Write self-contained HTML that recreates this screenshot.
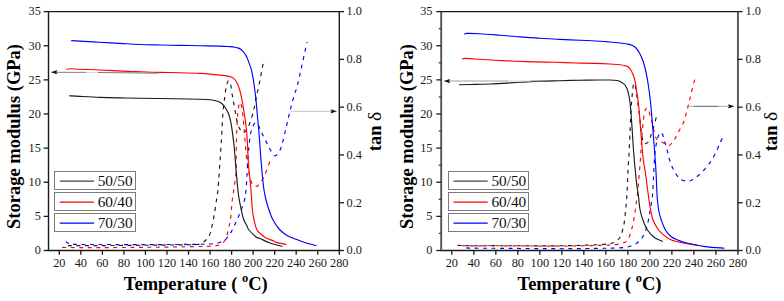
<!DOCTYPE html>
<html><head><meta charset="utf-8"><style>
html,body{margin:0;padding:0;background:#fff;}
svg{display:block;}
.tk{font-family:"Liberation Serif",serif;font-size:12.3px;fill:#1a1a1a;}
.lg{font-family:"Liberation Serif",serif;font-size:15.3px;fill:#111;}
.ti{font-family:"Liberation Serif",serif;font-size:18.5px;font-weight:bold;fill:#000;}
</style></head><body>
<svg width="784" height="301" viewBox="0 0 784 301">
<rect width="784" height="301" fill="#fff"/>
<line x1="47.6" y1="11.6" x2="340.2" y2="11.6" stroke="#1a1a1a" stroke-width="1.4"/>
<line x1="47.6" y1="250.5" x2="340.2" y2="250.5" stroke="#1a1a1a" stroke-width="1.4"/>
<line x1="48.5" y1="11.6" x2="48.5" y2="250.5" stroke="#1a1a1a" stroke-width="1.4"/>
<line x1="339.3" y1="11.6" x2="339.3" y2="250.5" stroke="#1a1a1a" stroke-width="1.4"/>
<line x1="43.6" y1="250.50" x2="48.5" y2="250.50" stroke="#1a1a1a" stroke-width="1.3"/>
<text x="40.8" y="254.30" text-anchor="end" class="tk">0</text>
<line x1="43.6" y1="216.37" x2="48.5" y2="216.37" stroke="#1a1a1a" stroke-width="1.3"/>
<text x="40.8" y="220.17" text-anchor="end" class="tk">5</text>
<line x1="43.6" y1="182.24" x2="48.5" y2="182.24" stroke="#1a1a1a" stroke-width="1.3"/>
<text x="40.8" y="186.04" text-anchor="end" class="tk">10</text>
<line x1="43.6" y1="148.11" x2="48.5" y2="148.11" stroke="#1a1a1a" stroke-width="1.3"/>
<text x="40.8" y="151.91" text-anchor="end" class="tk">15</text>
<line x1="43.6" y1="113.99" x2="48.5" y2="113.99" stroke="#1a1a1a" stroke-width="1.3"/>
<text x="40.8" y="117.79" text-anchor="end" class="tk">20</text>
<line x1="43.6" y1="79.86" x2="48.5" y2="79.86" stroke="#1a1a1a" stroke-width="1.3"/>
<text x="40.8" y="83.66" text-anchor="end" class="tk">25</text>
<line x1="43.6" y1="45.73" x2="48.5" y2="45.73" stroke="#1a1a1a" stroke-width="1.3"/>
<text x="40.8" y="49.53" text-anchor="end" class="tk">30</text>
<line x1="43.6" y1="11.60" x2="48.5" y2="11.60" stroke="#1a1a1a" stroke-width="1.3"/>
<text x="40.8" y="15.40" text-anchor="end" class="tk">35</text>
<line x1="339.3" y1="250.50" x2="344.0" y2="250.50" stroke="#1a1a1a" stroke-width="1.3"/>
<text x="346.5" y="254.30" class="tk">0.0</text>
<line x1="339.3" y1="202.72" x2="344.0" y2="202.72" stroke="#1a1a1a" stroke-width="1.3"/>
<text x="346.5" y="206.52" class="tk">0.2</text>
<line x1="339.3" y1="154.94" x2="344.0" y2="154.94" stroke="#1a1a1a" stroke-width="1.3"/>
<text x="346.5" y="158.74" class="tk">0.4</text>
<line x1="339.3" y1="107.16" x2="344.0" y2="107.16" stroke="#1a1a1a" stroke-width="1.3"/>
<text x="346.5" y="110.96" class="tk">0.6</text>
<line x1="339.3" y1="59.38" x2="344.0" y2="59.38" stroke="#1a1a1a" stroke-width="1.3"/>
<text x="346.5" y="63.18" class="tk">0.8</text>
<line x1="339.3" y1="11.60" x2="344.0" y2="11.60" stroke="#1a1a1a" stroke-width="1.3"/>
<text x="346.5" y="15.40" class="tk">1.0</text>
<line x1="59.30" y1="250.5" x2="59.30" y2="254.8" stroke="#1a1a1a" stroke-width="1.3"/>
<text x="59.30" y="267.2" text-anchor="middle" class="tk">20</text>
<line x1="80.84" y1="250.5" x2="80.84" y2="254.8" stroke="#1a1a1a" stroke-width="1.3"/>
<text x="80.84" y="267.2" text-anchor="middle" class="tk">40</text>
<line x1="102.38" y1="250.5" x2="102.38" y2="254.8" stroke="#1a1a1a" stroke-width="1.3"/>
<text x="102.38" y="267.2" text-anchor="middle" class="tk">60</text>
<line x1="123.92" y1="250.5" x2="123.92" y2="254.8" stroke="#1a1a1a" stroke-width="1.3"/>
<text x="123.92" y="267.2" text-anchor="middle" class="tk">80</text>
<line x1="145.45" y1="250.5" x2="145.45" y2="254.8" stroke="#1a1a1a" stroke-width="1.3"/>
<text x="145.45" y="267.2" text-anchor="middle" class="tk">100</text>
<line x1="166.99" y1="250.5" x2="166.99" y2="254.8" stroke="#1a1a1a" stroke-width="1.3"/>
<text x="166.99" y="267.2" text-anchor="middle" class="tk">120</text>
<line x1="188.53" y1="250.5" x2="188.53" y2="254.8" stroke="#1a1a1a" stroke-width="1.3"/>
<text x="188.53" y="267.2" text-anchor="middle" class="tk">140</text>
<line x1="210.07" y1="250.5" x2="210.07" y2="254.8" stroke="#1a1a1a" stroke-width="1.3"/>
<text x="210.07" y="267.2" text-anchor="middle" class="tk">160</text>
<line x1="231.61" y1="250.5" x2="231.61" y2="254.8" stroke="#1a1a1a" stroke-width="1.3"/>
<text x="231.61" y="267.2" text-anchor="middle" class="tk">180</text>
<line x1="253.15" y1="250.5" x2="253.15" y2="254.8" stroke="#1a1a1a" stroke-width="1.3"/>
<text x="253.15" y="267.2" text-anchor="middle" class="tk">200</text>
<line x1="274.68" y1="250.5" x2="274.68" y2="254.8" stroke="#1a1a1a" stroke-width="1.3"/>
<text x="274.68" y="267.2" text-anchor="middle" class="tk">220</text>
<line x1="296.22" y1="250.5" x2="296.22" y2="254.8" stroke="#1a1a1a" stroke-width="1.3"/>
<text x="296.22" y="267.2" text-anchor="middle" class="tk">240</text>
<line x1="317.76" y1="250.5" x2="317.76" y2="254.8" stroke="#1a1a1a" stroke-width="1.3"/>
<text x="317.76" y="267.2" text-anchor="middle" class="tk">260</text>
<line x1="339.30" y1="250.5" x2="339.30" y2="254.8" stroke="#1a1a1a" stroke-width="1.3"/>
<text x="339.30" y="267.2" text-anchor="middle" class="tk">280</text>
<path d="M66.40,245.30 C67.00,245.35 64.40,245.55 70.00,245.60 C75.60,245.65 86.67,245.67 100.00,245.60 C113.33,245.53 135.00,245.33 150.00,245.20 C165.00,245.07 182.33,244.90 190.00,244.80 C197.67,244.70 194.10,244.82 196.00,244.60 C197.90,244.38 199.63,244.37 201.40,243.50 C203.17,242.63 205.15,241.05 206.60,239.40 C208.05,237.75 209.22,235.73 210.10,233.60 C210.98,231.47 211.22,229.70 211.90,226.60 C212.58,223.50 213.43,219.43 214.20,215.00 C214.97,210.57 215.88,204.17 216.50,200.00 C217.12,195.83 217.42,195.00 217.90,190.00 C218.38,185.00 218.82,178.33 219.40,170.00 C219.98,161.67 220.83,149.17 221.40,140.00 C221.97,130.83 222.37,121.17 222.80,115.00 C223.23,108.83 223.63,106.33 224.00,103.00 C224.37,99.67 224.62,97.75 225.00,95.00 C225.38,92.25 225.75,88.87 226.30,86.50 C226.85,84.13 227.60,81.22 228.30,80.80 C229.00,80.38 229.83,81.63 230.50,84.00 C231.17,86.37 231.75,91.78 232.30,95.00 C232.85,98.22 233.27,100.30 233.80,103.30 C234.33,106.30 234.97,110.05 235.50,113.00 C236.03,115.95 236.42,118.58 237.00,121.00 C237.58,123.42 238.25,125.78 239.00,127.50 C239.75,129.22 240.72,130.47 241.50,131.30 C242.28,132.13 242.95,132.67 243.70,132.50 C244.45,132.33 245.23,131.22 246.00,130.30 C246.77,129.38 247.55,128.55 248.30,127.00 C249.05,125.45 249.73,123.28 250.50,121.00 C251.27,118.72 252.22,115.80 252.90,113.30 C253.58,110.80 254.00,108.88 254.60,106.00 C255.20,103.12 255.77,99.50 256.50,96.00 C257.23,92.50 258.17,89.00 259.00,85.00 C259.83,81.00 260.67,76.33 261.50,72.00 C262.33,67.67 263.58,61.17 264.00,59.00" fill="none" stroke="#1a1a1a" stroke-width="1.15" stroke-dasharray="3.9 4.6" stroke-dashoffset="6.5"/>
<path d="M62.70,247.30 C63.25,247.33 59.78,247.45 66.00,247.50 C72.22,247.55 86.00,247.63 100.00,247.60 C114.00,247.57 134.17,247.47 150.00,247.30 C165.83,247.13 185.00,246.77 195.00,246.60 C205.00,246.43 206.67,246.43 210.00,246.30 C213.33,246.17 213.33,246.07 215.00,245.80 C216.67,245.53 218.50,245.38 220.00,244.70 C221.50,244.02 222.92,242.98 224.00,241.70 C225.08,240.42 225.80,238.95 226.50,237.00 C227.20,235.05 227.70,232.12 228.20,230.00 C228.70,227.88 229.12,226.02 229.50,224.30 C229.88,222.58 230.03,223.75 230.50,219.70 C230.97,215.65 231.63,205.78 232.30,200.00 C232.97,194.22 233.88,189.67 234.50,185.00 C235.12,180.33 235.70,177.83 236.00,172.00 C236.30,166.17 236.20,156.17 236.30,150.00 C236.40,143.83 236.43,140.00 236.60,135.00 C236.77,130.00 237.00,124.50 237.30,120.00 C237.60,115.50 237.95,110.95 238.40,108.00 C238.85,105.05 239.43,102.38 240.00,102.30 C240.57,102.22 241.30,105.05 241.80,107.50 C242.30,109.95 242.63,113.58 243.00,117.00 C243.37,120.42 243.67,124.17 244.00,128.00 C244.33,131.83 244.63,135.50 245.00,140.00 C245.37,144.50 245.70,150.33 246.20,155.00 C246.70,159.67 247.20,163.67 248.00,168.00 C248.80,172.33 250.00,178.08 251.00,181.00 C252.00,183.92 253.00,184.63 254.00,185.50 C255.00,186.37 256.00,186.62 257.00,186.20 C258.00,185.78 259.00,184.28 260.00,183.00 C261.00,181.72 262.00,180.33 263.00,178.50 C264.00,176.67 264.83,174.92 266.00,172.00 C267.17,169.08 269.33,162.83 270.00,161.00" fill="none" stroke="#ff0000" stroke-width="1.15" stroke-dasharray="3.9 4.6" stroke-dashoffset="7.8"/>
<path d="M66.00,241.70 C66.38,241.95 67.30,242.77 68.30,243.20 C69.30,243.63 66.72,244.08 72.00,244.30 C77.28,244.52 87.00,244.45 100.00,244.50 C113.00,244.55 133.33,244.63 150.00,244.60 C166.67,244.57 190.00,244.40 200.00,244.30 C210.00,244.20 207.50,244.13 210.00,244.00 C212.50,243.87 213.33,243.78 215.00,243.50 C216.67,243.22 218.33,242.88 220.00,242.30 C221.67,241.72 223.67,240.97 225.00,240.00 C226.33,239.03 227.00,237.77 228.00,236.50 C229.00,235.23 230.17,233.75 231.00,232.40 C231.83,231.05 232.17,230.13 233.00,228.40 C233.83,226.67 234.77,224.73 236.00,222.00 C237.23,219.27 238.98,215.67 240.40,212.00 C241.82,208.33 243.57,203.67 244.50,200.00 C245.43,196.33 245.58,194.17 246.00,190.00 C246.42,185.83 246.63,180.83 247.00,175.00 C247.37,169.17 247.82,160.33 248.20,155.00 C248.58,149.67 248.87,146.75 249.30,143.00 C249.73,139.25 250.18,135.33 250.80,132.50 C251.42,129.67 252.25,127.65 253.00,126.00 C253.75,124.35 254.50,122.88 255.30,122.60 C256.10,122.32 256.93,123.07 257.80,124.30 C258.67,125.53 259.65,128.18 260.50,130.00 C261.35,131.82 261.73,132.80 262.90,135.20 C264.07,137.60 266.23,141.93 267.50,144.40 C268.77,146.87 269.25,148.10 270.50,150.00 C271.75,151.90 273.42,155.80 275.00,155.80 C276.58,155.80 278.67,152.47 280.00,150.00 C281.33,147.53 281.92,145.00 283.00,141.00 C284.08,137.00 285.33,131.00 286.50,126.00 C287.67,121.00 288.75,116.00 290.00,111.00 C291.25,106.00 292.75,100.33 294.00,96.00 C295.25,91.67 296.17,90.17 297.50,85.00 C298.83,79.83 300.42,72.17 302.00,65.00 C303.58,57.83 306.17,45.83 307.00,42.00" fill="none" stroke="#0000ff" stroke-width="1.15" stroke-dasharray="3.9 4.6" stroke-dashoffset="0.5"/>
<path d="M69.20,95.70 C71.00,95.82 74.87,96.12 80.00,96.40 C85.13,96.68 93.33,97.15 100.00,97.40 C106.67,97.65 113.33,97.77 120.00,97.90 C126.67,98.03 130.83,98.07 140.00,98.20 C149.17,98.33 165.00,98.53 175.00,98.70 C185.00,98.87 194.17,99.03 200.00,99.20 C205.83,99.37 207.50,99.47 210.00,99.70 C212.50,99.93 213.33,100.17 215.00,100.60 C216.67,101.03 218.50,101.43 220.00,102.30 C221.50,103.17 222.83,104.43 224.00,105.80 C225.17,107.17 226.17,108.97 227.00,110.50 C227.83,112.03 228.33,112.92 229.00,115.00 C229.67,117.08 230.42,120.00 231.00,123.00 C231.58,126.00 232.00,129.33 232.50,133.00 C233.00,136.67 233.53,140.50 234.00,145.00 C234.47,149.50 234.88,155.00 235.30,160.00 C235.72,165.00 235.97,169.17 236.50,175.00 C237.03,180.83 237.83,189.83 238.50,195.00 C239.17,200.17 239.67,202.00 240.50,206.00 C241.33,210.00 242.42,215.67 243.50,219.00 C244.58,222.33 246.08,224.17 247.00,226.00 C247.92,227.83 247.50,228.17 249.00,230.00 C250.50,231.83 254.17,235.58 256.00,237.00 C257.83,238.42 257.67,237.50 260.00,238.50 C262.33,239.50 266.27,241.68 270.00,243.00 C273.73,244.32 280.33,245.83 282.40,246.40" fill="none" stroke="#1a1a1a" stroke-width="1.15"/>
<path d="M66.40,69.40 C67.00,69.30 67.73,68.82 70.00,68.80 C72.27,68.78 75.00,69.10 80.00,69.30 C85.00,69.50 92.00,69.65 100.00,70.00 C108.00,70.35 121.33,71.12 128.00,71.40 C134.67,71.68 134.67,71.53 140.00,71.70 C145.33,71.87 153.33,72.23 160.00,72.40 C166.67,72.57 173.33,72.53 180.00,72.70 C186.67,72.87 194.17,73.08 200.00,73.40 C205.83,73.72 210.83,74.23 215.00,74.60 C219.17,74.97 222.17,75.15 225.00,75.60 C227.83,76.05 230.28,76.57 232.00,77.30 C233.72,78.03 234.30,78.72 235.30,80.00 C236.30,81.28 237.27,83.33 238.00,85.00 C238.73,86.67 239.20,88.33 239.70,90.00 C240.20,91.67 240.62,93.33 241.00,95.00 C241.38,96.67 241.68,98.33 242.00,100.00 C242.32,101.67 242.62,103.33 242.90,105.00 C243.18,106.67 243.38,108.00 243.70,110.00 C244.02,112.00 244.33,113.67 244.80,117.00 C245.27,120.33 246.05,125.33 246.50,130.00 C246.95,134.67 247.17,139.17 247.50,145.00 C247.83,150.83 248.08,159.17 248.50,165.00 C248.92,170.83 249.58,175.83 250.00,180.00 C250.42,184.17 250.60,185.00 251.00,190.00 C251.40,195.00 251.90,205.00 252.40,210.00 C252.90,215.00 253.23,216.67 254.00,220.00 C254.77,223.33 255.67,227.50 257.00,230.00 C258.33,232.50 260.50,233.67 262.00,235.00 C263.50,236.33 264.00,237.00 266.00,238.00 C268.00,239.00 272.33,240.27 274.00,241.00 C275.67,241.73 273.92,241.82 276.00,242.40 C278.08,242.98 284.75,244.15 286.50,244.50" fill="none" stroke="#ff0000" stroke-width="1.15"/>
<path d="M71.20,40.60 C72.67,40.68 75.20,40.82 80.00,41.10 C84.80,41.38 93.33,41.92 100.00,42.30 C106.67,42.68 113.33,43.03 120.00,43.40 C126.67,43.77 133.33,44.23 140.00,44.50 C146.67,44.77 153.33,44.85 160.00,45.00 C166.67,45.15 173.33,45.28 180.00,45.40 C186.67,45.52 193.33,45.58 200.00,45.70 C206.67,45.82 215.83,45.98 220.00,46.10 C224.17,46.22 223.33,46.32 225.00,46.40 C226.67,46.48 228.33,46.47 230.00,46.60 C231.67,46.73 233.58,46.95 235.00,47.20 C236.42,47.45 237.50,47.72 238.50,48.10 C239.50,48.48 240.20,48.92 241.00,49.50 C241.80,50.08 242.63,50.85 243.30,51.60 C243.97,52.35 244.38,53.03 245.00,54.00 C245.62,54.97 246.42,56.15 247.00,57.40 C247.58,58.65 248.00,60.13 248.50,61.50 C249.00,62.87 249.50,64.15 250.00,65.60 C250.50,67.05 251.08,68.63 251.50,70.20 C251.92,71.77 252.18,73.37 252.50,75.00 C252.82,76.63 253.02,77.50 253.40,80.00 C253.78,82.50 254.37,86.67 254.80,90.00 C255.23,93.33 255.65,96.67 256.00,100.00 C256.35,103.33 256.63,107.00 256.90,110.00 C257.17,113.00 257.33,115.17 257.60,118.00 C257.87,120.83 258.15,123.00 258.50,127.00 C258.85,131.00 259.28,136.50 259.70,142.00 C260.12,147.50 260.48,153.67 261.00,160.00 C261.52,166.33 262.30,175.00 262.80,180.00 C263.30,185.00 263.47,186.67 264.00,190.00 C264.53,193.33 265.17,196.67 266.00,200.00 C266.83,203.33 267.83,206.67 269.00,210.00 C270.17,213.33 271.17,216.67 273.00,220.00 C274.83,223.33 277.50,227.33 280.00,230.00 C282.50,232.67 285.00,234.33 288.00,236.00 C291.00,237.67 294.83,238.78 298.00,240.00 C301.17,241.22 303.93,242.37 307.00,243.30 C310.07,244.23 314.83,245.22 316.40,245.60" fill="none" stroke="#0000ff" stroke-width="1.15"/>
<line x1="56" y1="72.3" x2="86" y2="72.4" stroke="#808080" stroke-width="1.0"/>
<line x1="86" y1="72.4" x2="98" y2="72.5" stroke="#d8d8d8" stroke-width="1.0"/>
<line x1="98" y1="72.5" x2="158.5" y2="73.2" stroke="#7a7a7a" stroke-width="1.0"/>
<line x1="291" y1="111.3" x2="332" y2="111.3" stroke="#c4c4c4" stroke-width="1.0"/>
<path d="M50.8,72.2 L57.3,70.10000000000001 L56.3,72.2 L57.3,74.3 Z" fill="#111"/>
<path d="M337,111.3 L330.5,109.2 L331.5,111.3 L330.5,113.39999999999999 Z" fill="#111"/>
<rect x="54.5" y="171.5" width="81.0" height="18.0" fill="#fff" stroke="#7a7a7a" stroke-width="1"/>
<line x1="59.8" y1="181.0" x2="94.0" y2="181.0" stroke="#444" stroke-width="1.25"/>
<text x="97.7" y="186.10" class="lg">50/50</text>
<rect x="54.5" y="192.5" width="81.0" height="18.0" fill="#fff" stroke="#7a7a7a" stroke-width="1"/>
<line x1="59.8" y1="202.2" x2="94.0" y2="202.2" stroke="#ff0000" stroke-width="1.25"/>
<text x="97.7" y="207.10" class="lg">60/40</text>
<rect x="54.5" y="213.5" width="81.0" height="18.0" fill="#fff" stroke="#7a7a7a" stroke-width="1"/>
<line x1="59.8" y1="223.2" x2="94.0" y2="223.2" stroke="#0000ff" stroke-width="1.25"/>
<text x="97.7" y="228.10" class="lg">70/30</text>
<text transform="translate(19.5,136.5) rotate(-90)" text-anchor="middle" class="ti">Storage modulus (GPa)</text>
<text transform="translate(381.0,131.5) rotate(-90)" text-anchor="middle" class="ti">tan <tspan font-weight="normal" font-size="19.5">&#948;</tspan></text>
<text x="195.8" y="290" text-anchor="middle" class="ti">Temperature ( <tspan dy="-8" font-size="12.5">o</tspan><tspan dy="8">C)</tspan></text>
<line x1="440.3" y1="11.6" x2="738.8" y2="11.6" stroke="#1a1a1a" stroke-width="1.4"/>
<line x1="440.3" y1="250.5" x2="738.8" y2="250.5" stroke="#1a1a1a" stroke-width="1.4"/>
<line x1="441.2" y1="11.6" x2="441.2" y2="250.5" stroke="#555" stroke-width="1.9"/>
<line x1="737.9" y1="11.6" x2="737.9" y2="250.5" stroke="#555" stroke-width="1.9"/>
<line x1="436.3" y1="250.50" x2="441.2" y2="250.50" stroke="#1a1a1a" stroke-width="1.3"/>
<text x="432.5" y="254.30" text-anchor="end" class="tk">0</text>
<line x1="438.7" y1="233.44" x2="441.2" y2="233.44" stroke="#333" stroke-width="1.2"/>
<line x1="436.3" y1="216.37" x2="441.2" y2="216.37" stroke="#1a1a1a" stroke-width="1.3"/>
<text x="432.5" y="220.17" text-anchor="end" class="tk">5</text>
<line x1="438.7" y1="199.31" x2="441.2" y2="199.31" stroke="#333" stroke-width="1.2"/>
<line x1="436.3" y1="182.24" x2="441.2" y2="182.24" stroke="#1a1a1a" stroke-width="1.3"/>
<text x="432.5" y="186.04" text-anchor="end" class="tk">10</text>
<line x1="438.7" y1="165.18" x2="441.2" y2="165.18" stroke="#333" stroke-width="1.2"/>
<line x1="436.3" y1="148.11" x2="441.2" y2="148.11" stroke="#1a1a1a" stroke-width="1.3"/>
<text x="432.5" y="151.91" text-anchor="end" class="tk">15</text>
<line x1="438.7" y1="131.05" x2="441.2" y2="131.05" stroke="#333" stroke-width="1.2"/>
<line x1="436.3" y1="113.99" x2="441.2" y2="113.99" stroke="#1a1a1a" stroke-width="1.3"/>
<text x="432.5" y="117.79" text-anchor="end" class="tk">20</text>
<line x1="438.7" y1="96.92" x2="441.2" y2="96.92" stroke="#333" stroke-width="1.2"/>
<line x1="436.3" y1="79.86" x2="441.2" y2="79.86" stroke="#1a1a1a" stroke-width="1.3"/>
<text x="432.5" y="83.66" text-anchor="end" class="tk">25</text>
<line x1="438.7" y1="62.79" x2="441.2" y2="62.79" stroke="#333" stroke-width="1.2"/>
<line x1="436.3" y1="45.73" x2="441.2" y2="45.73" stroke="#1a1a1a" stroke-width="1.3"/>
<text x="432.5" y="49.53" text-anchor="end" class="tk">30</text>
<line x1="438.7" y1="28.66" x2="441.2" y2="28.66" stroke="#333" stroke-width="1.2"/>
<line x1="436.3" y1="11.60" x2="441.2" y2="11.60" stroke="#1a1a1a" stroke-width="1.3"/>
<text x="432.5" y="15.40" text-anchor="end" class="tk">35</text>
<line x1="737.9" y1="250.50" x2="742.6" y2="250.50" stroke="#1a1a1a" stroke-width="1.3"/>
<text x="745.5" y="254.30" class="tk">0.0</text>
<line x1="737.9" y1="202.72" x2="742.6" y2="202.72" stroke="#1a1a1a" stroke-width="1.3"/>
<text x="745.5" y="206.52" class="tk">0.2</text>
<line x1="737.9" y1="154.94" x2="742.6" y2="154.94" stroke="#1a1a1a" stroke-width="1.3"/>
<text x="745.5" y="158.74" class="tk">0.4</text>
<line x1="737.9" y1="107.16" x2="742.6" y2="107.16" stroke="#1a1a1a" stroke-width="1.3"/>
<text x="745.5" y="110.96" class="tk">0.6</text>
<line x1="737.9" y1="59.38" x2="742.6" y2="59.38" stroke="#1a1a1a" stroke-width="1.3"/>
<text x="745.5" y="63.18" class="tk">0.8</text>
<line x1="737.9" y1="11.60" x2="742.6" y2="11.60" stroke="#1a1a1a" stroke-width="1.3"/>
<text x="745.5" y="15.40" class="tk">1.0</text>
<line x1="451.80" y1="250.5" x2="451.80" y2="254.8" stroke="#1a1a1a" stroke-width="1.3"/>
<text x="451.80" y="267.2" text-anchor="middle" class="tk">20</text>
<line x1="473.81" y1="250.5" x2="473.81" y2="254.8" stroke="#1a1a1a" stroke-width="1.3"/>
<text x="473.81" y="267.2" text-anchor="middle" class="tk">40</text>
<line x1="495.82" y1="250.5" x2="495.82" y2="254.8" stroke="#1a1a1a" stroke-width="1.3"/>
<text x="495.82" y="267.2" text-anchor="middle" class="tk">60</text>
<line x1="517.82" y1="250.5" x2="517.82" y2="254.8" stroke="#1a1a1a" stroke-width="1.3"/>
<text x="517.82" y="267.2" text-anchor="middle" class="tk">80</text>
<line x1="539.83" y1="250.5" x2="539.83" y2="254.8" stroke="#1a1a1a" stroke-width="1.3"/>
<text x="539.83" y="267.2" text-anchor="middle" class="tk">100</text>
<line x1="561.84" y1="250.5" x2="561.84" y2="254.8" stroke="#1a1a1a" stroke-width="1.3"/>
<text x="561.84" y="267.2" text-anchor="middle" class="tk">120</text>
<line x1="583.85" y1="250.5" x2="583.85" y2="254.8" stroke="#1a1a1a" stroke-width="1.3"/>
<text x="583.85" y="267.2" text-anchor="middle" class="tk">140</text>
<line x1="605.85" y1="250.5" x2="605.85" y2="254.8" stroke="#1a1a1a" stroke-width="1.3"/>
<text x="605.85" y="267.2" text-anchor="middle" class="tk">160</text>
<line x1="627.86" y1="250.5" x2="627.86" y2="254.8" stroke="#1a1a1a" stroke-width="1.3"/>
<text x="627.86" y="267.2" text-anchor="middle" class="tk">180</text>
<line x1="649.87" y1="250.5" x2="649.87" y2="254.8" stroke="#1a1a1a" stroke-width="1.3"/>
<text x="649.87" y="267.2" text-anchor="middle" class="tk">200</text>
<line x1="671.88" y1="250.5" x2="671.88" y2="254.8" stroke="#1a1a1a" stroke-width="1.3"/>
<text x="671.88" y="267.2" text-anchor="middle" class="tk">220</text>
<line x1="693.88" y1="250.5" x2="693.88" y2="254.8" stroke="#1a1a1a" stroke-width="1.3"/>
<text x="693.88" y="267.2" text-anchor="middle" class="tk">240</text>
<line x1="715.89" y1="250.5" x2="715.89" y2="254.8" stroke="#1a1a1a" stroke-width="1.3"/>
<text x="715.89" y="267.2" text-anchor="middle" class="tk">260</text>
<line x1="737.90" y1="250.5" x2="737.90" y2="254.8" stroke="#1a1a1a" stroke-width="1.3"/>
<text x="737.90" y="267.2" text-anchor="middle" class="tk">280</text>
<path d="M458.70,244.40 C459.25,244.60 455.12,245.38 462.00,245.60 C468.88,245.82 483.67,245.67 500.00,245.70 C516.33,245.73 545.00,245.92 560.00,245.80 C575.00,245.68 583.33,245.20 590.00,245.00 C596.67,244.80 597.00,244.78 600.00,244.60 C603.00,244.42 605.83,244.20 608.00,243.90 C610.17,243.60 611.57,243.28 613.00,242.80 C614.43,242.32 615.52,241.80 616.60,241.00 C617.68,240.20 618.72,239.00 619.50,238.00 C620.28,237.00 620.78,236.33 621.30,235.00 C621.82,233.67 622.17,231.67 622.60,230.00 C623.03,228.33 623.43,228.00 623.90,225.00 C624.37,222.00 624.95,216.17 625.40,212.00 C625.85,207.83 626.27,204.50 626.60,200.00 C626.93,195.50 627.17,190.00 627.40,185.00 C627.63,180.00 627.70,175.83 628.00,170.00 C628.30,164.17 628.83,157.00 629.20,150.00 C629.57,143.00 629.90,134.67 630.20,128.00 C630.50,121.33 630.67,115.50 631.00,110.00 C631.33,104.50 631.83,99.00 632.20,95.00 C632.57,91.00 632.87,87.97 633.20,86.00 C633.53,84.03 633.83,83.20 634.20,83.20 C634.57,83.20 634.93,83.70 635.40,86.00 C635.87,88.30 636.48,93.33 637.00,97.00 C637.52,100.67 638.00,104.17 638.50,108.00 C639.00,111.83 639.55,116.17 640.00,120.00 C640.45,123.83 640.78,127.83 641.20,131.00 C641.62,134.17 642.03,137.00 642.50,139.00 C642.97,141.00 643.42,142.25 644.00,143.00 C644.58,143.75 645.17,143.83 646.00,143.50 C646.83,143.17 648.17,142.42 649.00,141.00 C649.83,139.58 650.33,137.00 651.00,135.00 C651.67,133.00 652.33,131.17 653.00,129.00 C653.67,126.83 654.33,124.33 655.00,122.00 C655.67,119.67 656.67,116.17 657.00,115.00" fill="none" stroke="#1a1a1a" stroke-width="1.15" stroke-dasharray="3.9 4.6" stroke-dashoffset="8.1"/>
<path d="M461.80,245.30 C462.50,245.38 459.63,245.72 466.00,245.80 C472.37,245.88 484.33,245.75 500.00,245.80 C515.67,245.85 543.33,246.17 560.00,246.10 C576.67,246.03 591.67,245.57 600.00,245.40 C608.33,245.23 607.33,245.23 610.00,245.10 C612.67,244.97 614.17,244.85 616.00,244.60 C617.83,244.35 619.42,244.03 621.00,243.60 C622.58,243.17 624.33,242.77 625.50,242.00 C626.67,241.23 627.25,240.17 628.00,239.00 C628.75,237.83 629.43,236.50 630.00,235.00 C630.57,233.50 630.93,231.67 631.40,230.00 C631.87,228.33 632.27,227.50 632.80,225.00 C633.33,222.50 634.07,218.33 634.60,215.00 C635.13,211.67 635.53,208.33 636.00,205.00 C636.47,201.67 636.98,198.67 637.40,195.00 C637.82,191.33 638.07,188.00 638.50,183.00 C638.93,178.00 639.58,170.50 640.00,165.00 C640.42,159.50 640.67,155.00 641.00,150.00 C641.33,145.00 641.67,139.33 642.00,135.00 C642.33,130.67 642.62,127.50 643.00,124.00 C643.38,120.50 643.88,116.42 644.30,114.00 C644.72,111.58 645.05,110.50 645.50,109.50 C645.95,108.50 646.50,107.92 647.00,108.00 C647.50,108.08 648.00,108.83 648.50,110.00 C649.00,111.17 649.42,113.00 650.00,115.00 C650.58,117.00 651.33,119.33 652.00,122.00 C652.67,124.67 653.33,128.33 654.00,131.00 C654.67,133.67 655.17,136.33 656.00,138.00 C656.83,139.67 658.00,140.33 659.00,141.00 C660.00,141.67 661.00,141.50 662.00,142.00 C663.00,142.50 663.90,143.37 665.00,144.00 C666.10,144.63 667.43,145.97 668.60,145.80 C669.77,145.63 670.83,144.38 672.00,143.00 C673.17,141.62 674.43,139.50 675.60,137.50 C676.77,135.50 677.65,133.58 679.00,131.00 C680.35,128.42 682.53,124.83 683.70,122.00 C684.87,119.17 685.25,116.72 686.00,114.00 C686.75,111.28 687.37,109.03 688.20,105.70 C689.03,102.37 689.83,98.70 691.00,94.00 C692.17,89.30 694.50,80.25 695.20,77.50" fill="none" stroke="#ff0000" stroke-width="1.15" stroke-dasharray="3.9 4.6" stroke-dashoffset="8.3"/>
<path d="M465.90,247.30 C466.42,247.43 463.32,247.93 469.00,248.10 C474.68,248.27 484.83,248.20 500.00,248.30 C515.17,248.40 543.33,248.70 560.00,248.70 C576.67,248.70 590.83,248.42 600.00,248.30 C609.17,248.18 610.90,248.13 615.00,248.00 C619.10,247.87 621.93,247.83 624.60,247.50 C627.27,247.17 629.27,246.55 631.00,246.00 C632.73,245.45 633.78,244.87 635.00,244.20 C636.22,243.53 637.22,242.95 638.30,242.00 C639.38,241.05 640.58,239.67 641.50,238.50 C642.42,237.33 643.08,236.42 643.80,235.00 C644.52,233.58 645.20,231.67 645.80,230.00 C646.40,228.33 646.87,227.17 647.40,225.00 C647.93,222.83 648.53,219.50 649.00,217.00 C649.47,214.50 649.62,213.67 650.20,210.00 C650.78,206.33 651.93,200.83 652.50,195.00 C653.07,189.17 653.22,181.67 653.60,175.00 C653.98,168.33 654.43,159.72 654.80,155.00 C655.17,150.28 655.35,149.48 655.80,146.70 C656.25,143.92 656.93,140.42 657.50,138.30 C658.07,136.18 658.65,135.00 659.20,134.00 C659.75,133.00 660.20,132.13 660.80,132.30 C661.40,132.47 662.23,133.72 662.80,135.00 C663.37,136.28 663.55,137.78 664.20,140.00 C664.85,142.22 665.90,145.30 666.70,148.30 C667.50,151.30 668.12,154.97 669.00,158.00 C669.88,161.03 670.83,163.83 672.00,166.50 C673.17,169.17 674.67,171.92 676.00,174.00 C677.33,176.08 678.33,177.83 680.00,179.00 C681.67,180.17 684.17,180.75 686.00,181.00 C687.83,181.25 689.25,181.17 691.00,180.50 C692.75,179.83 694.67,178.42 696.50,177.00 C698.33,175.58 700.08,173.95 702.00,172.00 C703.92,170.05 706.17,167.63 708.00,165.30 C709.83,162.97 711.43,160.72 713.00,158.00 C714.57,155.28 716.15,151.67 717.40,149.00 C718.65,146.33 719.52,144.12 720.50,142.00 C721.48,139.88 722.83,137.25 723.30,136.30" fill="none" stroke="#0000ff" stroke-width="1.15" stroke-dasharray="3.9 4.6" stroke-dashoffset="7.2"/>
<path d="M459.00,84.80 C460.83,84.75 464.83,84.63 470.00,84.50 C475.17,84.37 481.67,84.37 490.00,84.00 C498.33,83.63 511.67,82.77 520.00,82.30 C528.33,81.83 533.33,81.47 540.00,81.20 C546.67,80.93 553.33,80.87 560.00,80.70 C566.67,80.53 573.33,80.32 580.00,80.20 C586.67,80.08 595.00,80.03 600.00,80.00 C605.00,79.97 607.17,79.92 610.00,80.00 C612.83,80.08 615.17,80.17 617.00,80.50 C618.83,80.83 619.67,81.25 621.00,82.00 C622.33,82.75 623.92,83.67 625.00,85.00 C626.08,86.33 626.83,88.17 627.50,90.00 C628.17,91.83 628.55,93.67 629.00,96.00 C629.45,98.33 629.83,100.67 630.20,104.00 C630.57,107.33 630.87,111.67 631.20,116.00 C631.53,120.33 631.82,124.33 632.20,130.00 C632.58,135.67 633.00,143.33 633.50,150.00 C634.00,156.67 634.65,164.17 635.20,170.00 C635.75,175.83 636.28,180.83 636.80,185.00 C637.32,189.17 637.75,190.83 638.30,195.00 C638.85,199.17 639.33,205.83 640.10,210.00 C640.87,214.17 641.68,216.67 642.90,220.00 C644.12,223.33 645.58,227.17 647.40,230.00 C649.22,232.83 651.82,235.33 653.80,237.00 C655.78,238.67 657.82,239.27 659.30,240.00 C660.78,240.73 662.13,241.17 662.70,241.40" fill="none" stroke="#1a1a1a" stroke-width="1.15"/>
<path d="M462.10,59.00 C462.62,58.90 463.05,58.40 465.20,58.40 C467.35,58.40 470.03,58.70 475.00,59.00 C479.97,59.30 488.33,59.83 495.00,60.20 C501.67,60.57 508.33,60.92 515.00,61.20 C521.67,61.48 528.33,61.72 535.00,61.90 C541.67,62.08 548.33,62.12 555.00,62.30 C561.67,62.48 568.33,62.82 575.00,63.00 C581.67,63.18 589.17,63.23 595.00,63.40 C600.83,63.57 605.83,63.78 610.00,64.00 C614.17,64.22 617.50,64.43 620.00,64.70 C622.50,64.97 623.62,65.22 625.00,65.60 C626.38,65.98 627.30,66.22 628.30,67.00 C629.30,67.78 630.28,69.20 631.00,70.30 C631.72,71.40 632.05,72.32 632.60,73.60 C633.15,74.88 633.82,76.38 634.30,78.00 C634.78,79.62 635.10,81.02 635.50,83.30 C635.90,85.58 636.28,88.92 636.70,91.70 C637.12,94.48 637.57,96.62 638.00,100.00 C638.43,103.38 638.92,107.83 639.30,112.00 C639.68,116.17 639.93,120.33 640.30,125.00 C640.67,129.67 641.00,134.17 641.50,140.00 C642.00,145.83 642.72,155.00 643.30,160.00 C643.88,165.00 644.38,165.83 645.00,170.00 C645.62,174.17 646.33,180.00 647.00,185.00 C647.67,190.00 648.33,195.50 649.00,200.00 C649.67,204.50 650.33,208.67 651.00,212.00 C651.67,215.33 651.73,217.00 653.00,220.00 C654.27,223.00 656.60,227.33 658.60,230.00 C660.60,232.67 662.97,234.37 665.00,236.00 C667.03,237.63 668.17,238.72 670.80,239.80 C673.43,240.88 676.27,241.55 680.80,242.50 C685.33,243.45 695.13,245.00 698.00,245.50" fill="none" stroke="#ff0000" stroke-width="1.15"/>
<path d="M464.50,34.40 C464.83,34.23 463.92,33.52 466.50,33.40 C469.08,33.28 474.42,33.40 480.00,33.70 C485.58,34.00 493.33,34.67 500.00,35.20 C506.67,35.73 513.33,36.40 520.00,36.90 C526.67,37.40 533.33,37.78 540.00,38.20 C546.67,38.62 553.33,39.07 560.00,39.40 C566.67,39.73 573.33,39.90 580.00,40.20 C586.67,40.50 595.00,40.90 600.00,41.20 C605.00,41.50 606.67,41.70 610.00,42.00 C613.33,42.30 617.17,42.67 620.00,43.00 C622.83,43.33 625.00,43.62 627.00,44.00 C629.00,44.38 630.50,44.63 632.00,45.30 C633.50,45.97 634.67,46.55 636.00,48.00 C637.33,49.45 638.83,51.83 640.00,54.00 C641.17,56.17 642.08,58.33 643.00,61.00 C643.92,63.67 644.75,66.83 645.50,70.00 C646.25,73.17 646.92,76.67 647.50,80.00 C648.08,83.33 648.50,86.33 649.00,90.00 C649.50,93.67 650.07,98.00 650.50,102.00 C650.93,106.00 651.18,109.17 651.60,114.00 C652.02,118.83 652.52,125.00 653.00,131.00 C653.48,137.00 654.02,143.50 654.50,150.00 C654.98,156.50 655.52,163.33 655.90,170.00 C656.28,176.67 656.55,185.00 656.80,190.00 C657.05,195.00 657.03,196.33 657.40,200.00 C657.77,203.67 658.35,208.67 659.00,212.00 C659.65,215.33 660.23,217.00 661.30,220.00 C662.37,223.00 663.78,227.25 665.40,230.00 C667.02,232.75 668.95,234.83 671.00,236.50 C673.05,238.17 675.05,238.92 677.70,240.00 C680.35,241.08 682.30,241.90 686.90,243.00 C691.50,244.10 699.05,245.73 705.30,246.60 C711.55,247.47 721.22,247.93 724.40,248.20" fill="none" stroke="#0000ff" stroke-width="1.15"/>
<line x1="449" y1="81.0" x2="508" y2="81.0" stroke="#a0a0a0" stroke-width="1.0"/>
<line x1="508" y1="81.0" x2="530" y2="81.0" stroke="#d8d8d8" stroke-width="1.0"/>
<line x1="530" y1="81.0" x2="545" y2="80.9" stroke="#888" stroke-width="1.0"/>
<line x1="689.2" y1="106.3" x2="694" y2="106.3" stroke="#aaa" stroke-width="1.0"/>
<line x1="694" y1="106.3" x2="718" y2="106.3" stroke="#606060" stroke-width="1.0"/>
<line x1="718" y1="106.3" x2="729" y2="106.3" stroke="#aaa" stroke-width="1.0"/>
<path d="M443.6,81.1 L450.1,79.0 L449.1,81.1 L450.1,83.19999999999999 Z" fill="#111"/>
<path d="M734.5,106.3 L728.0,104.2 L729.0,106.3 L728.0,108.39999999999999 Z" fill="#111"/>
<rect x="448.5" y="171.5" width="80.0" height="18.0" fill="#fff" stroke="#7a7a7a" stroke-width="1"/>
<line x1="453.5" y1="181.0" x2="487.7" y2="181.0" stroke="#444" stroke-width="1.25"/>
<text x="491.4" y="186.10" class="lg">50/50</text>
<rect x="448.5" y="192.5" width="80.0" height="18.0" fill="#fff" stroke="#7a7a7a" stroke-width="1"/>
<line x1="453.5" y1="202.2" x2="487.7" y2="202.2" stroke="#ff0000" stroke-width="1.25"/>
<text x="491.4" y="207.10" class="lg">60/40</text>
<rect x="448.5" y="213.5" width="80.0" height="18.0" fill="#fff" stroke="#7a7a7a" stroke-width="1"/>
<line x1="453.5" y1="223.2" x2="487.7" y2="223.2" stroke="#0000ff" stroke-width="1.25"/>
<text x="491.4" y="228.10" class="lg">70/30</text>
<text transform="translate(413.3,136.5) rotate(-90)" text-anchor="middle" class="ti">Storage modulus (GPa)</text>
<text transform="translate(777.0,131.5) rotate(-90)" text-anchor="middle" class="ti">tan <tspan font-weight="normal" font-size="19.5">&#948;</tspan></text>
<text x="589.5" y="290" text-anchor="middle" class="ti">Temperature ( <tspan dy="-8" font-size="12.5">o</tspan><tspan dy="8">C)</tspan></text>
</svg>
</body></html>
